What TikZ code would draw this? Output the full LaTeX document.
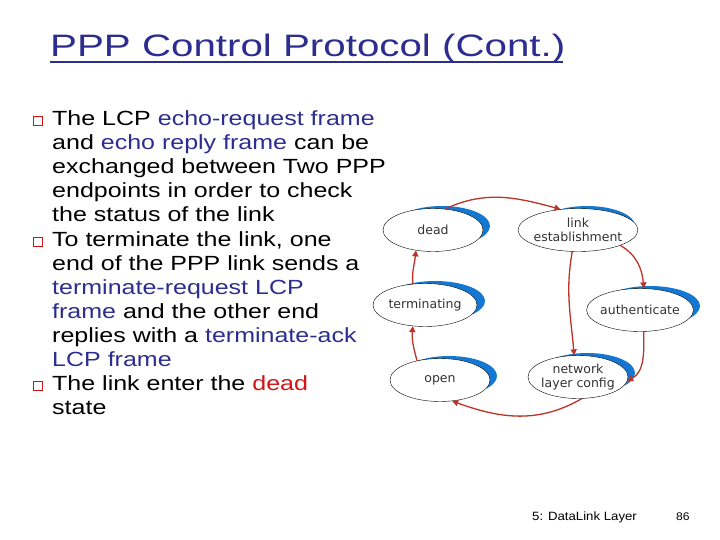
\documentclass[tikz,border=0pt]{standalone}
\usepackage{fontspec}
\setmainfont{DejaVu Sans}
\newfontfamily\bodyfont[FakeStretch=1.22]{Liberation Sans}
\newfontfamily\titlefont[FakeStretch=1.3]{Liberation Sans}
\newfontfamily\footfont[FakeStretch=1.1]{Liberation Sans}
\usetikzlibrary{arrows.meta,shapes.geometric}
\definecolor{tblue}{RGB}{45,45,145}
\definecolor{tred}{RGB}{210,20,20}
\definecolor{sblue}{RGB}{20,120,210}
\definecolor{ared}{RGB}{190,50,40}
\tikzset{
 st/.style={draw=black,fill=white,ellipse,minimum width=100pt,minimum height=43pt,inner sep=-2pt,align=center,font=\fontsize{12.5}{13.5}\selectfont,text=black!80},
 arr/.style={draw=ared,line width=1.3pt,-{Triangle[length=6pt,width=6pt]}},
 bul/.style={draw=tred,line width=0.8pt,minimum size=9pt,inner sep=0pt},
 body/.style={anchor=north west,align=left,font=\bodyfont\fontsize{20.5}{24}\selectfont,inner sep=0pt}
}
\begin{document}
\begin{tikzpicture}[x=1pt,y=-1pt]
\useasboundingbox (0,0) rectangle (720,540);
\node[anchor=base west,font=\titlefont\fontsize{31}{31}\selectfont,text=tblue,inner sep=0pt] (title) at (50,57) {PPP Control Protocol (Cont.)};
\draw[tblue,line width=1.2pt] (50,62) -- (563,62);
\node[bul] (b1) at (38,121) {};
\node[bul] (b2) at (38,242) {};
\node[bul] (b3) at (38,386) {};
\node[body] (t1) at (52,110) {The LCP \textcolor{tblue}{echo-request frame}\\and \textcolor{tblue}{echo reply frame} can be\\exchanged between Two PPP\\endpoints in order to check\\the status of the link};
\node[body] (t2) at (52,231) {To terminate the link, one\\end of the PPP link sends a\\\textcolor{tblue}{terminate-request LCP}\\\textcolor{tblue}{frame} and the other end\\replies with a \textcolor{tblue}{terminate-ack}\\\textcolor{tblue}{LCP frame}};
\node[body] (t3) at (52,375) {The link enter the \textcolor{tred}{dead}\\state};
% shadows
\fill[sblue] (442,226) ellipse [x radius=48, y radius=20];
\fill[sblue] (587,226) ellipse [x radius=48, y radius=20];
\fill[sblue] (435,301) ellipse [x radius=50, y radius=20];
\fill[sblue] (650,306) ellipse [x radius=50, y radius=20];
\fill[sblue] (449,376) ellipse [x radius=48, y radius=20];
\fill[sblue] (587,373) ellipse [x radius=48, y radius=20];
\node[st] (dead) at (433,230) {dead};
\node[st] (link) at (578,230) {link\\establishment};
\node[st,minimum width=104pt] (term) at (425,305) {terminating};
\node[st,minimum width=104pt] (auth) at (640,310) {authenticate};
\node[st] (open) at (440,380) {open};
\node[st] (net) at (578,377) {network\\layer config};
\draw[arr] (dead.60) to[out=25,in=165] (link.130);
\draw[arr] (link.255) to[out=-100,in=95] (net.100);
\draw[arr] (link.-20) to[out=-30,in=95] (auth.80);
\draw[arr] (auth.-80) to[out=-90,in=30] (net.-5);
\draw[arr] (net.-80) to[out=-150,in=-20] (open.-60);
\draw[arr] (open.140) to[out=105,in=-95] (term.-120);
\draw[arr] (term.120) to[out=95,in=-95] (dead.-130);
\node[anchor=west,font=\footfont\fontsize{12}{12}\selectfont,inner sep=0pt] (foot) at (532,517) {5: DataLink Layer};
\node[anchor=west,font=\footfont\fontsize{11}{11}\selectfont,inner sep=0pt] (pg) at (676,517) {86};
\end{tikzpicture}
\end{document}
